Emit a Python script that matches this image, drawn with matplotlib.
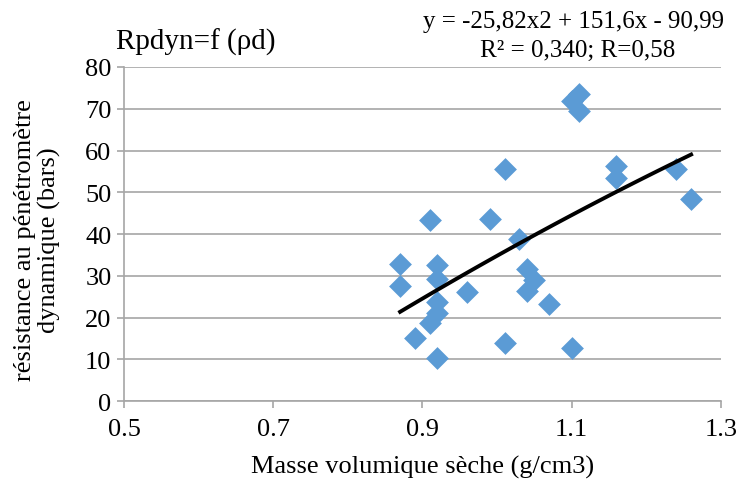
import numpy as np
import matplotlib
matplotlib.use('Agg')
import matplotlib.pyplot as plt

plt.rcParams['font.family'] = ['Liberation Serif', 'DejaVu Serif']

# masse volumique seche (g/cm3) et resistance (bars)
rho_d = [0.87, 0.87, 0.91, 0.92, 0.92, 0.92, 0.92, 0.91, 0.89, 0.92,
         0.96, 0.99, 1.01, 1.01, 1.03, 1.04, 1.05, 1.04, 1.07, 1.10,
         1.10, 1.11, 1.11, 1.16, 1.16, 1.24, 1.26]
rpdyn = [32.8, 27.6, 43.4, 32.6, 29.2, 23.6, 21.0, 18.6, 15.1, 10.3,
         26.0, 43.6, 55.5, 13.8, 38.8, 31.6, 29.0, 26.3, 23.2, 12.8,
         71.8, 73.5, 69.5, 56.3, 53.3, 55.6, 48.4]

# coefficients de la tendance polynomiale (ordre 2)
coef = [-25.82, 151.6, -90.99]

fig = plt.figure(figsize=(7.39, 4.85), dpi=100)
ax = fig.add_axes([0.1678, 0.1711, 0.8078, 0.6887])

ax.scatter(rho_d, rpdyn, marker='D', s=135, color='#5b9bd5', zorder=3, linewidths=0)

xx = np.linspace(min(rho_d), max(rho_d), 100)
ax.plot(xx, np.polyval(coef, xx), color='black', lw=2.8, zorder=4)

ax.set_xlim(0.5, 1.3)
ax.set_ylim(0, 80)
ax.set_xticks([0.5, 0.7, 0.9, 1.1, 1.3])
ax.set_xticklabels(['0.5', '0.7', '0.9', '1.1', '1.3'])
ax.set_yticks(range(0, 81, 10))
ax.grid(axis='y', color='#a6a6a6', lw=1.2)
ax.set_axisbelow(True)
for s in ['top', 'right']:
    ax.spines[s].set_visible(False)
for s in ['left', 'bottom']:
    ax.spines[s].set_color('#a6a6a6')
    ax.spines[s].set_linewidth(1.2)
ax.tick_params(axis='both', colors='#a6a6a6', width=1.2, length=5, labelcolor='black', labelsize=19)
ax.tick_params(axis='x', pad=7)
ax.tick_params(axis='y', pad=4)

ax.set_xlabel('Masse volumique sèche (g/cm3)', fontsize=19, va='center')
ax.xaxis.set_label_coords(0.5, -0.195)
ax.set_ylabel('résistance au pénétromètre\ndynamique (bars)', fontsize=19, va='center',
              linespacing=1.15)
ax.yaxis.set_label_coords(-0.145, 0.485)

fig.text(0.157, 0.913, 'Rpdyn=f (ρd)', fontsize=21, va='center', ha='left')
fig.text(0.776, 0.955, 'y = -25,82x2 + 151,6x - 90,99', fontsize=18, ha='center', va='center')
fig.text(0.781, 0.895, 'R² = 0,340; R=0,58', fontsize=18, ha='center', va='center')

fig.savefig('out.png', dpi=100)
